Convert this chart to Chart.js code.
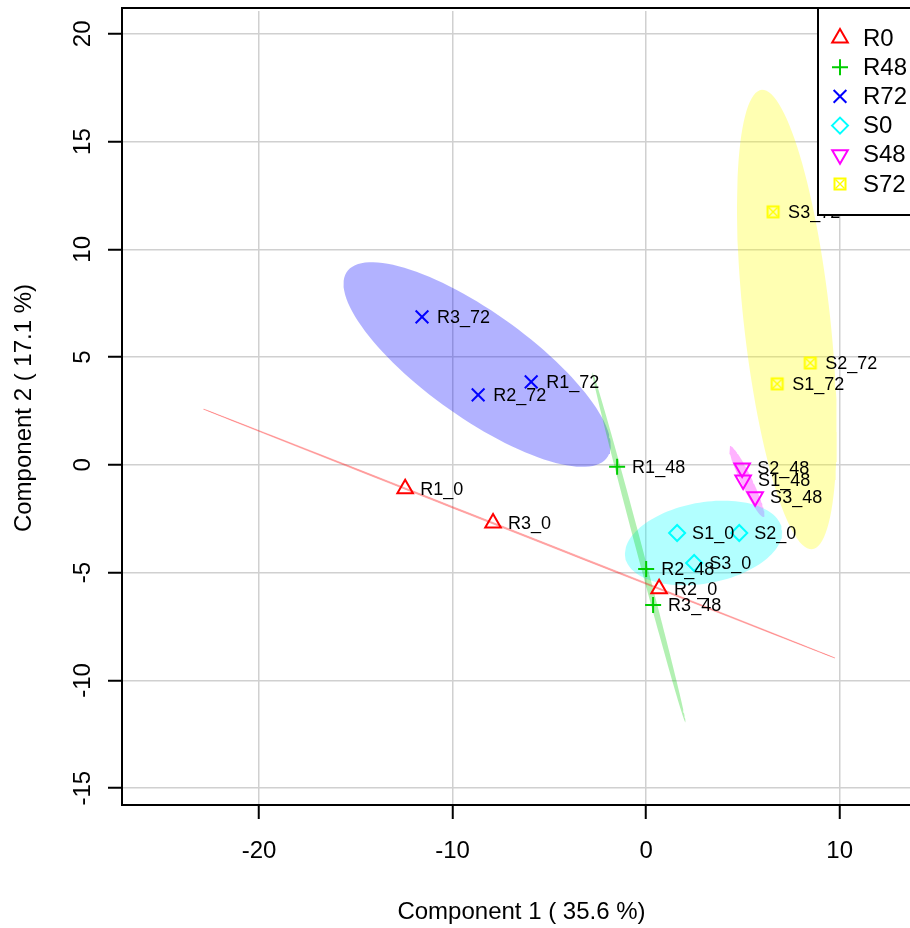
<!DOCTYPE html>
<html>
<head>
<meta charset="utf-8">
<script src="https://cdn.jsdelivr.net/npm/chart.js@4.4.1/dist/chart.umd.min.js"></script>
<style>
  html, body { margin: 0; padding: 0; overflow: hidden; background: #fff; }
</style>
</head>
<body>
<canvas id="pcaChart" width="935" height="928"></canvas>
<script>
// groups and their samples (component scores)
const groupNames = ["R0", "R48", "R72", "S0", "S48", "S72"];
const sampleLabels = [
  ["R1_0", "R2_0", "R3_0"],
  ["R1_48", "R2_48", "R3_48"],
  ["R1_72", "R2_72", "R3_72"],
  ["S1_0", "S2_0", "S3_0"],
  ["S1_48", "S2_48", "S3_48"],
  ["S1_72", "S2_72", "S3_72"]
];
const comp1 = [
  [-12.45, 0.67, -7.91],
  [-1.50, 0.00, 0.36],
  [-5.94, -8.68, -11.58],
  [1.60, 4.81, 2.48],
  [5.01, 4.96, 5.63],
  [6.77, 8.48, 6.56]
];
const comp2 = [
  [-1.11, -5.75, -2.69],
  [-0.09, -4.83, -6.50],
  [3.85, 3.25, 6.87],
  [-3.16, -3.16, -4.55],
  [-0.70, -0.14, -1.48],
  [3.76, 4.73, 11.74]
];
const xTicks = [-20, -10, 0, 10];
const yTicks = [-15, -10, -5, 0, 5, 10, 15, 20];
const xRange = [-27.08, 14.2];
const yRange = [-15.78, 21.06];
const yFrameTop = 21.2;
const xTitle = "Component 1 ( 35.6 %)";
const yTitle = "Component 2 ( 17.1 %)";

// 95% confidence ellipse: sqrt(qchisq(0.95, 2))
const ellipseScale = 2.4477;

const groupColors = ["#FF0000", "#00CD00", "#0000FF", "#00FFFF", "#FF00FF", "#FFFF00"];
const fillColors = [
  "rgba(255,0,0,0.3)", "rgba(0,205,0,0.3)", "rgba(0,0,255,0.3)",
  "rgba(0,255,255,0.3)", "rgba(255,0,255,0.3)", "rgba(255,255,0,0.3)"
];
const fontFamily = "'Liberation Sans', Arial, sans-serif";

function boxCross(color) {
  const c = document.createElement("canvas");
  c.width = 16; c.height = 16;
  const g = c.getContext("2d");
  g.strokeStyle = color;
  g.lineWidth = 2;
  g.strokeRect(2.5, 2.5, 11, 11);
  g.lineWidth = 1.4;
  g.beginPath();
  g.moveTo(3.5, 3.5); g.lineTo(12.5, 12.5);
  g.moveTo(12.5, 3.5); g.lineTo(3.5, 12.5);
  g.stroke();
  return c;
}

const pointStyles = ["triangle", "cross", "crossRot", "rectRot", "triangle", boxCross("#FFFF00")];
const pointRotations = [0, 0, 0, 0, 180, 0];
const pointRadii = [9, 8, 9, 8, 9, 8];

function ellipsePoints(xs, ys) {
  const n = xs.length;
  const mx = xs.reduce((a, b) => a + b, 0) / n;
  const my = ys.reduce((a, b) => a + b, 0) / n;
  let sxx = 0, syy = 0, sxy = 0;
  for (let i = 0; i < n; i++) {
    const dx = xs[i] - mx, dy = ys[i] - my;
    sxx += dx * dx; syy += dy * dy; sxy += dx * dy;
  }
  sxx /= n - 1; syy /= n - 1; sxy /= n - 1;
  const l11 = Math.sqrt(sxx);
  const l21 = sxy / l11;
  const l22 = Math.sqrt(Math.max(syy - l21 * l21, 0));
  const pts = [];
  for (let k = 0; k <= 120; k++) {
    const t = 2 * Math.PI * k / 120;
    pts.push({
      x: mx + ellipseScale * l11 * Math.cos(t),
      y: my + ellipseScale * (l21 * Math.cos(t) + l22 * Math.sin(t))
    });
  }
  return pts;
}

const ellipseSets = groupNames.map((g, i) => ({
  type: "line",
  label: g + " ellipse",
  data: ellipsePoints(comp1[i], comp2[i]),
  backgroundColor: fillColors[i],
  borderColor: i === 0 ? "rgba(255,0,0,0.22)" : "rgba(0,0,0,0)",
  borderWidth: i === 0 ? 1 : 0.01,
  pointRadius: 0,
  fill: "shape",
  tension: 0,
  order: 2
}));

const pointSets = groupNames.map((g, i) => ({
  label: g,
  data: comp1[i].map((x, j) => ({ x: x, y: comp2[i][j], name: sampleLabels[i][j] })),
  pointStyle: pointStyles[i],
  rotation: pointRotations[i],
  radius: pointRadii[i],
  borderColor: groupColors[i],
  backgroundColor: "rgba(0,0,0,0)",
  borderWidth: 2,
  order: 1
}));

const labelPlugin = {
  id: "sampleLabels",
  afterDatasetsDraw(chart) {
    const ctx = chart.ctx;
    ctx.save();
    ctx.font = "18px " + fontFamily;
    ctx.fillStyle = "#000";
    ctx.textAlign = "left";
    ctx.textBaseline = "middle";
    chart.data.datasets.forEach((ds, di) => {
      if (ds.type === "line") return;
      chart.getDatasetMeta(di).data.forEach((pt, j) => {
        ctx.fillText(ds.data[j].name, pt.x + 15, pt.y + 1);
      });
    });
    ctx.restore();
  }
};

const boxLegendPlugin = {
  id: "boxLegend",
  afterDraw(chart) {
    const ctx = chart.ctx;
    const area = chart.chartArea;
    const top = Math.round(chart.scales.y.getPixelForValue(yFrameTop));
    ctx.save();
    ctx.strokeStyle = "#000";
    ctx.lineWidth = 2;
    ctx.strokeRect(area.left, top, area.right - area.left, area.bottom - top);

    const lx = 818, ly = top, lw = area.right - 818, lh = 207;
    ctx.fillStyle = "#fff";
    ctx.fillRect(lx, ly, lw, lh);
    ctx.strokeRect(lx, ly, lw, lh);
    ctx.font = "24px " + fontFamily;
    ctx.textAlign = "left";
    ctx.textBaseline = "middle";
    groupNames.forEach((g, i) => {
      const y = ly + 30 + i * 29.2;
      ctx.strokeStyle = groupColors[i];
      ctx.fillStyle = "rgba(0,0,0,0)";
      ctx.lineWidth = 2;
      Chart.helpers.drawPoint(ctx, {
        pointStyle: pointStyles[i],
        rotation: pointRotations[i],
        radius: pointRadii[i],
        borderWidth: 2
      }, 840, y);
      ctx.fillStyle = "#000";
      ctx.fillText(g, 863, y + 1);
    });
    ctx.restore();
  }
};

new Chart(document.getElementById("pcaChart").getContext("2d"), {
  type: "scatter",
  data: { datasets: [...ellipseSets, ...pointSets] },
  options: {
    responsive: false,
    animation: false,
    layout: { padding: { top: 8, right: 14, left: 0, bottom: 0 } },
    plugins: { legend: { display: false }, tooltip: { enabled: false } },
    scales: {
      x: {
        type: "linear",
        min: xRange[0],
        max: xRange[1],
        afterBuildTicks: (axis) => { axis.ticks = xTicks.map(v => ({ value: v })); },
        afterFit: (axis) => { axis.height = 123; axis.paddingLeft = 0; axis.paddingRight = 0; },
        grid: { color: "#d0d0d0", lineWidth: 1.5, tickColor: "#000", tickWidth: 2, tickLength: 14 },
        border: { display: false },
        ticks: { color: "#000", padding: 18, font: { family: fontFamily, size: 24 }, callback: v => String(v) },
        title: { display: true, text: xTitle, color: "#000", font: { family: fontFamily, size: 24 }, padding: { top: 0, bottom: 1 } }
      },
      y: {
        type: "linear",
        min: yRange[0],
        max: yRange[1],
        afterBuildTicks: (axis) => { axis.ticks = yTicks.map(v => ({ value: v })); },
        afterFit: (axis) => { axis.width = 122; axis.paddingTop = 0; axis.paddingBottom = 0; },
        grid: { color: "#d0d0d0", lineWidth: 1.5, tickColor: "#000", tickWidth: 2, tickLength: 14 },
        border: { display: false },
        ticks: {
          color: "#000", padding: 7, minRotation: 90, maxRotation: 90, crossAlign: "center",
          font: { family: fontFamily, size: 24 }, callback: v => String(v)
        },
        title: { display: true, text: yTitle, color: "#000", font: { family: fontFamily, size: 24 }, padding: { top: 10, bottom: 0 } }
      }
    }
  },
  plugins: [labelPlugin, boxLegendPlugin]
});
</script>
</body>
</html>
